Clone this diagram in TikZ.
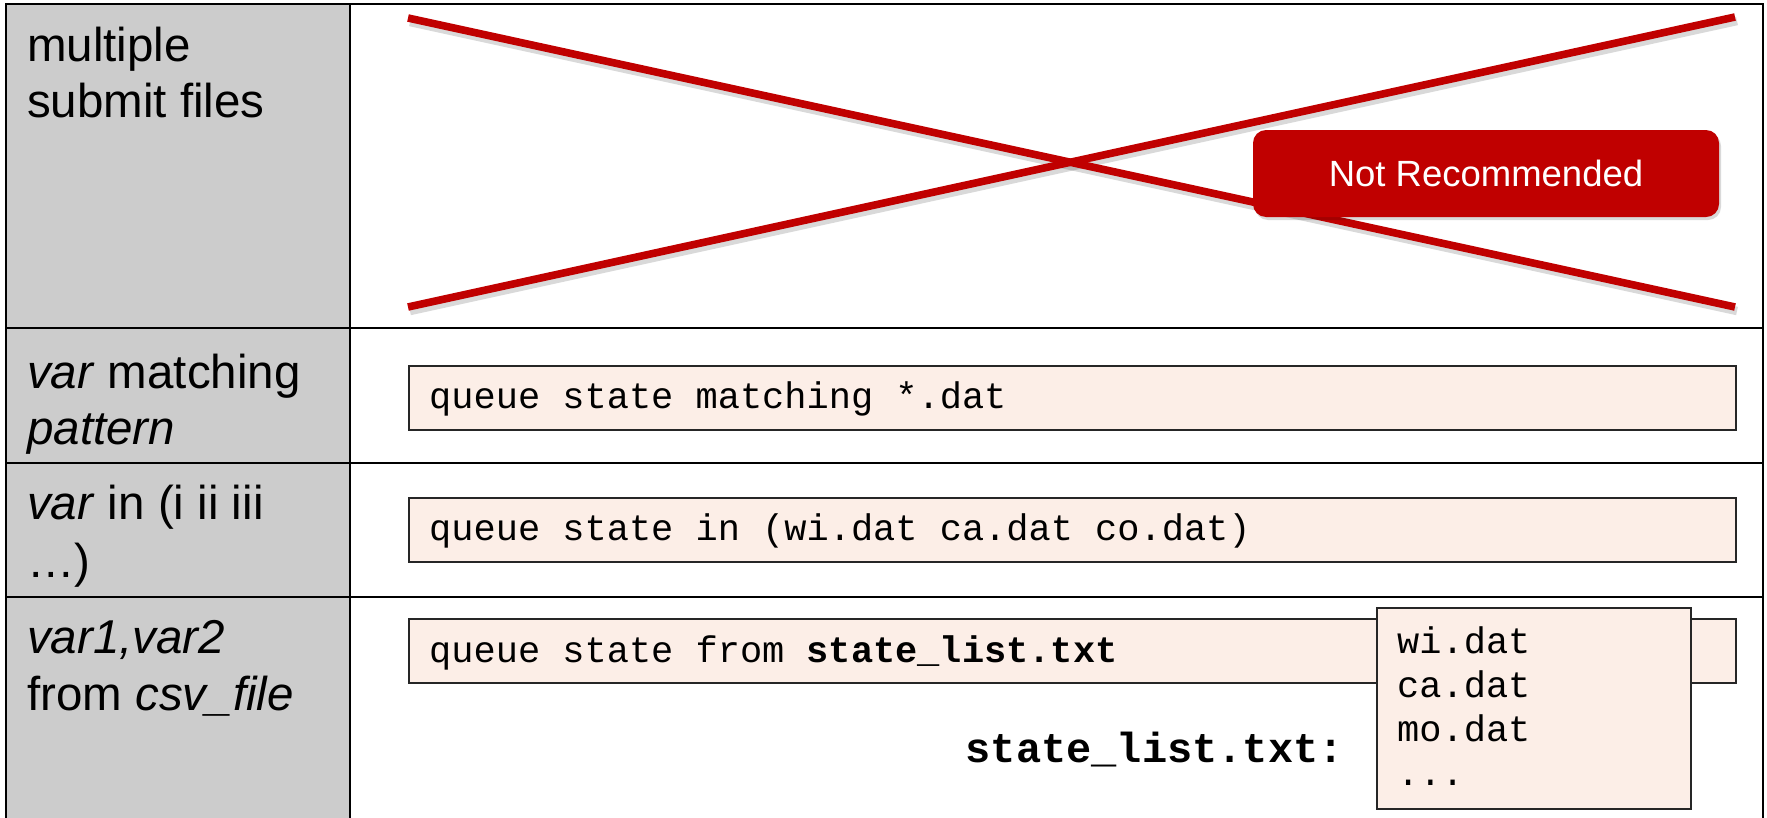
\documentclass[tikz,border=0pt]{standalone}
\usepackage{fontspec}
\setmainfont{Liberation Sans}
\setmonofont{Liberation Mono}
\definecolor{rowgray}{HTML}{CCCCCC}
\definecolor{codefill}{HTML}{FCEEE7}
\definecolor{xred}{HTML}{C00000}
\begin{document}
\begin{tikzpicture}[x=1pt,y=-1pt,
  tbl/.style={line width=2.8pt, draw=black},
  lefttext/.style={anchor=base west, inner sep=0pt, font=\fontsize{47.5}{56}\selectfont},
  codebox/.style={draw=black!85, line width=1.8pt, fill=codefill, anchor=north west, inner sep=0pt},
  codetext/.style={anchor=base west, inner sep=0pt, font=\fontsize{37}{44}\selectfont\ttfamily},
  xline/.style={draw=xred, line width=7.6pt},
  xshadow/.style={draw=black, line width=8.5pt, opacity=0.15},
  badge/.style={fill=xred, rounded corners=13pt, minimum width=466pt, minimum height=87pt, inner sep=0pt,
    text=white, font=\fontsize{36.5}{44}\selectfont}
]
\useasboundingbox (0,0) rectangle (1767,817);
\clip (0,0) rectangle (1767,817);
\fill[white] (0,0) rectangle (1767,817);
% gray label column
\fill[rowgray] (6,4) rectangle (350,830);
% table rules
\coordinate (tl) at (6,4);
\coordinate (tr) at (1763,4);
\coordinate (bl) at (6,830);
\coordinate (br) at (1763,830);
\coordinate (dt) at (350,4);
\coordinate (db) at (350,830);
\coordinate (r1l) at (6,328);  \coordinate (r1r) at (1763,328);
\coordinate (r2l) at (6,463);  \coordinate (r2r) at (1763,463);
\coordinate (r3l) at (6,597);  \coordinate (r3r) at (1763,597);
\draw[tbl] (bl) -- (tl) -- (tr) -- (br);
\draw[tbl] (dt) -- (db);
\draw[tbl] (r1l) -- (r1r);
\draw[tbl] (r2l) -- (r2r);
\draw[tbl] (r3l) -- (r3r);

% left labels
\node[lefttext] (l1a) at (27,61) {multiple};
\node[lefttext] (l1b) at (27,117) {submit files};
\node[lefttext] (l2a) at (27,388) {\textit{var} matching};
\node[lefttext] (l2b) at (27,444) {\textit{pattern}};
\node[lefttext] (l3a) at (27,519) {\textit{var} in (i ii iii};
\node[lefttext] (l3b) at (27,577) {…)};
\node[lefttext] (l4a) at (27,653) {\textit{var1,var2}};
\node[lefttext] (l4b) at (27,710) {from \textit{csv\_file}};

% red cross
\coordinate (xa) at (408,18);
\coordinate (xb) at (1735,307);
\coordinate (xc) at (408,307);
\coordinate (xd) at (1735,17);
\draw[xshadow] ([shift={(2,4)}]xa) -- ([shift={(2,4)}]xb);
\draw[xshadow] ([shift={(2,4)}]xc) -- ([shift={(2,4)}]xd);
\draw[xline] (xa) -- (xb);
\draw[xline] (xc) -- (xd);

% badge
\node[badge, fill=black, opacity=0.15] (nrs) at (1488,176.5) {};
\node[badge] (nr) at (1486,173.5) {Not Recommended};

% code boxes
\node[codebox, minimum width=1327pt, minimum height=64pt] (q1) at (408,365) {};
\node[codetext] (q1t) at (429,408) {queue state matching *.dat};
\node[codebox, minimum width=1327pt, minimum height=64pt] (q2) at (408,497) {};
\node[codetext] (q2t) at (429,540) {queue state in (wi.dat ca.dat co.dat)};
\node[codebox, minimum width=1327pt, minimum height=64pt] (q3) at (408,618) {};
\node[codetext] (q3t) at (429,662) {queue state from \textbf{state\_list.txt}};

% file contents
\node[codebox, minimum width=314pt, minimum height=201pt] (sl) at (1376,607) {};
\node[codetext] (s1) at (1397,653) {wi.dat};
\node[codetext] (s2) at (1397,697) {ca.dat};
\node[codetext] (s3) at (1397,741) {mo.dat};
\node[codetext] (s4) at (1397,785) {...};
\node[anchor=base east, inner sep=0pt, font=\fontsize{42}{50}\selectfont\ttfamily\bfseries] (slabel) at (1344,762) {state\_list.txt:};
\end{tikzpicture}
\end{document}
